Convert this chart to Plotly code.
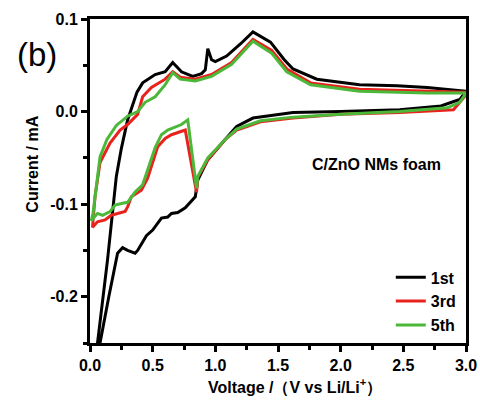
import plotly.graph_objects as go

# Cyclic voltammetry of C/ZnO NMs foam, cycles 1, 3 and 5.
# Each cycle: cathodic sweep 3.0 V -> ~0 V, then anodic sweep back to 3.0 V.
cycle_names = ["1st", "3rd", "5th"]
cycle_colors = ["#000000", "#e8221d", "#4cb83a"]

v_1st = [3.00, 2.95, 2.80, 2.47, 2.00, 1.62, 1.30, 1.17, 1.08, 0.94, 0.86, 0.84,
         0.76, 0.70, 0.65, 0.62, 0.57, 0.53, 0.50, 0.45, 0.42, 0.38, 0.36, 0.30,
         0.26, 0.22, 0.15, 0.08, 0.065,
         0.045, 0.06, 0.14, 0.21, 0.25, 0.30, 0.375, 0.42, 0.52, 0.60, 0.66, 0.73,
         0.82, 0.89, 0.92, 0.94, 0.97, 1.00, 1.09, 1.20, 1.30, 1.44, 1.55, 1.62,
         1.81, 2.15, 2.45, 2.69, 3.00]
i_1st = [0.022, 0.013, 0.006, 0.002, 0.000, -0.001, -0.007, -0.016, -0.030, -0.052,
         -0.074, -0.092, -0.104, -0.109, -0.110, -0.114, -0.115, -0.123, -0.128,
         -0.134, -0.141, -0.150, -0.153, -0.150, -0.147, -0.153, -0.200, -0.250, -0.270,
         -0.270, -0.250, -0.160, -0.070, -0.040, -0.009, 0.021, 0.031, 0.040, 0.043,
         0.053, 0.043, 0.038, 0.041, 0.045, 0.068, 0.056, 0.054, 0.060, 0.073, 0.086,
         0.075, 0.056, 0.046, 0.035, 0.029, 0.028, 0.026, 0.022]

v_3rd = [3.00, 2.90, 2.47, 2.00, 1.62, 1.36, 1.17, 1.08, 0.94, 0.86, 0.85, 0.76,
         0.65, 0.60, 0.54, 0.50, 0.46, 0.41, 0.33, 0.30, 0.28, 0.17, 0.12, 0.06, 0.02,
         0.04, 0.08, 0.16, 0.24, 0.30, 0.38, 0.42, 0.49, 0.60, 0.66, 0.72, 0.84, 0.97,
         1.13, 1.30, 1.45, 1.57, 1.76, 2.15, 2.69, 3.00]
i_3rd = [0.018, 0.002, -0.001, -0.003, -0.007, -0.011, -0.020, -0.030, -0.052,
         -0.071, -0.087, -0.020, -0.025, -0.029, -0.038, -0.055, -0.072, -0.085,
         -0.092, -0.103, -0.108, -0.112, -0.117, -0.119, -0.125,
         -0.092, -0.055, -0.034, -0.020, -0.014, -0.003, 0.016, 0.026, 0.035, 0.043,
         0.037, 0.035, 0.040, 0.053, 0.078, 0.066, 0.046, 0.031, 0.024, 0.022, 0.021]

v_5th = [3.00, 2.95, 2.85, 2.47, 2.00, 1.62, 1.36, 1.17, 1.08, 0.94, 0.86, 0.85,
         0.78, 0.73, 0.62, 0.57, 0.52, 0.48, 0.42, 0.36, 0.30, 0.26, 0.20, 0.16, 0.10,
         0.06, 0.02, 0.01,
         0.024, 0.055, 0.08, 0.135, 0.21, 0.30, 0.38, 0.44, 0.52, 0.60, 0.66, 0.72,
         0.84, 0.97, 1.13, 1.30, 1.45, 1.57, 1.76, 2.15, 2.69, 3.00]
i_5th = [0.020, 0.010, 0.004, 0.000, -0.003, -0.006, -0.010, -0.019, -0.030, -0.050,
         -0.070, -0.083, -0.009, -0.014, -0.020, -0.025, -0.039, -0.056, -0.079,
         -0.087, -0.098, -0.099, -0.101, -0.108, -0.112, -0.110, -0.117, -0.118,
         -0.110, -0.074, -0.049, -0.030, -0.015, -0.005, 0.000, 0.010, 0.016, 0.029,
         0.042, 0.035, 0.033, 0.038, 0.051, 0.076, 0.063, 0.043, 0.029, 0.022, 0.020, 0.020]

voltages = [v_1st, v_3rd, v_5th]
currents = [i_1st, i_3rd, i_5th]

y_tick_vals = [-0.2, -0.1, 0.0, 0.1]
y_tick_text = ["-0.2", "-0.1", "0.0", "0.1"]
x_tick_vals = [0.0, 0.5, 1.0, 1.5, 2.0, 2.5, 3.0]
x_tick_text = ["0.0", "0.5", "1.0", "1.5", "2.0", "2.5", "3.0"]

FONT = "Liberation Sans, Arial, sans-serif"

fig = go.Figure()
for name, color, v, i in zip(cycle_names, cycle_colors, voltages, currents):
    fig.add_trace(go.Scatter(x=v, y=i, mode="lines", name="<b>%s</b>" % name,
                             line=dict(color=color, width=3)))

tick_font = dict(family=FONT, size=16, color="black")
axis_common = dict(showline=True, linewidth=3, linecolor="black", mirror=True,
                   ticks="outside", ticklen=6, tickwidth=2.5, tickcolor="black",
                   showgrid=False, zeroline=False, tickfont=tick_font,
                   automargin=False)

fig.update_xaxes(range=[0, 3.0], tickmode="array", tickvals=x_tick_vals,
                 ticktext=["<b>%s</b>" % t for t in x_tick_text],
                 minor=dict(tickvals=[0.25, 0.75, 1.25, 1.75, 2.25, 2.75],
                            ticks="outside", ticklen=4, tickwidth=2.5, tickcolor="black"),
                 **axis_common)
fig.update_yaxes(range=[-0.25, 0.1], tickmode="array", tickvals=y_tick_vals,
                 ticktext=["<b>%s</b>" % t for t in y_tick_text],
                 minor=dict(tickvals=[-0.25, -0.15, -0.05, 0.05],
                            ticks="outside", ticklen=4, tickwidth=2.5, tickcolor="black"),
                 **axis_common)

fig.update_layout(
    width=480, height=404,
    margin=dict(l=90, r=14, t=19, b=61, autoexpand=False),
    paper_bgcolor="white", plot_bgcolor="white",
    font=dict(family=FONT, color="black"),
    showlegend=True,
    legend=dict(x=0.80, y=0.255, xanchor="left", yanchor="top",
                bgcolor="rgba(0,0,0,0)", borderwidth=0,
                font=dict(size=16, family=FONT),
                itemwidth=30, tracegroupgap=0),
    annotations=[
        dict(text="(b)", xref="paper", yref="paper", x=-0.14, y=0.89,
             xanchor="center", yanchor="middle", showarrow=False,
             font=dict(size=33, family=FONT)),
        dict(text="<b>C/ZnO NMs foam</b>", xref="paper", yref="paper",
             x=0.763, y=0.55, xanchor="center", yanchor="middle", showarrow=False,
             font=dict(size=16)),
        dict(text="<b>Current / mA</b>", xref="paper", yref="paper",
             x=-0.152, y=0.553, xanchor="center", yanchor="middle", showarrow=False,
             textangle=-90, font=dict(size=16)),
        dict(text="<b>Voltage /（V vs Li/Li<sup>+</sup>）</b>", xref="paper", yref="paper",
             x=0.545, y=-0.135, xanchor="center", yanchor="middle", showarrow=False,
             font=dict(size=16)),
    ],
)

fig.write_html("out.html")
